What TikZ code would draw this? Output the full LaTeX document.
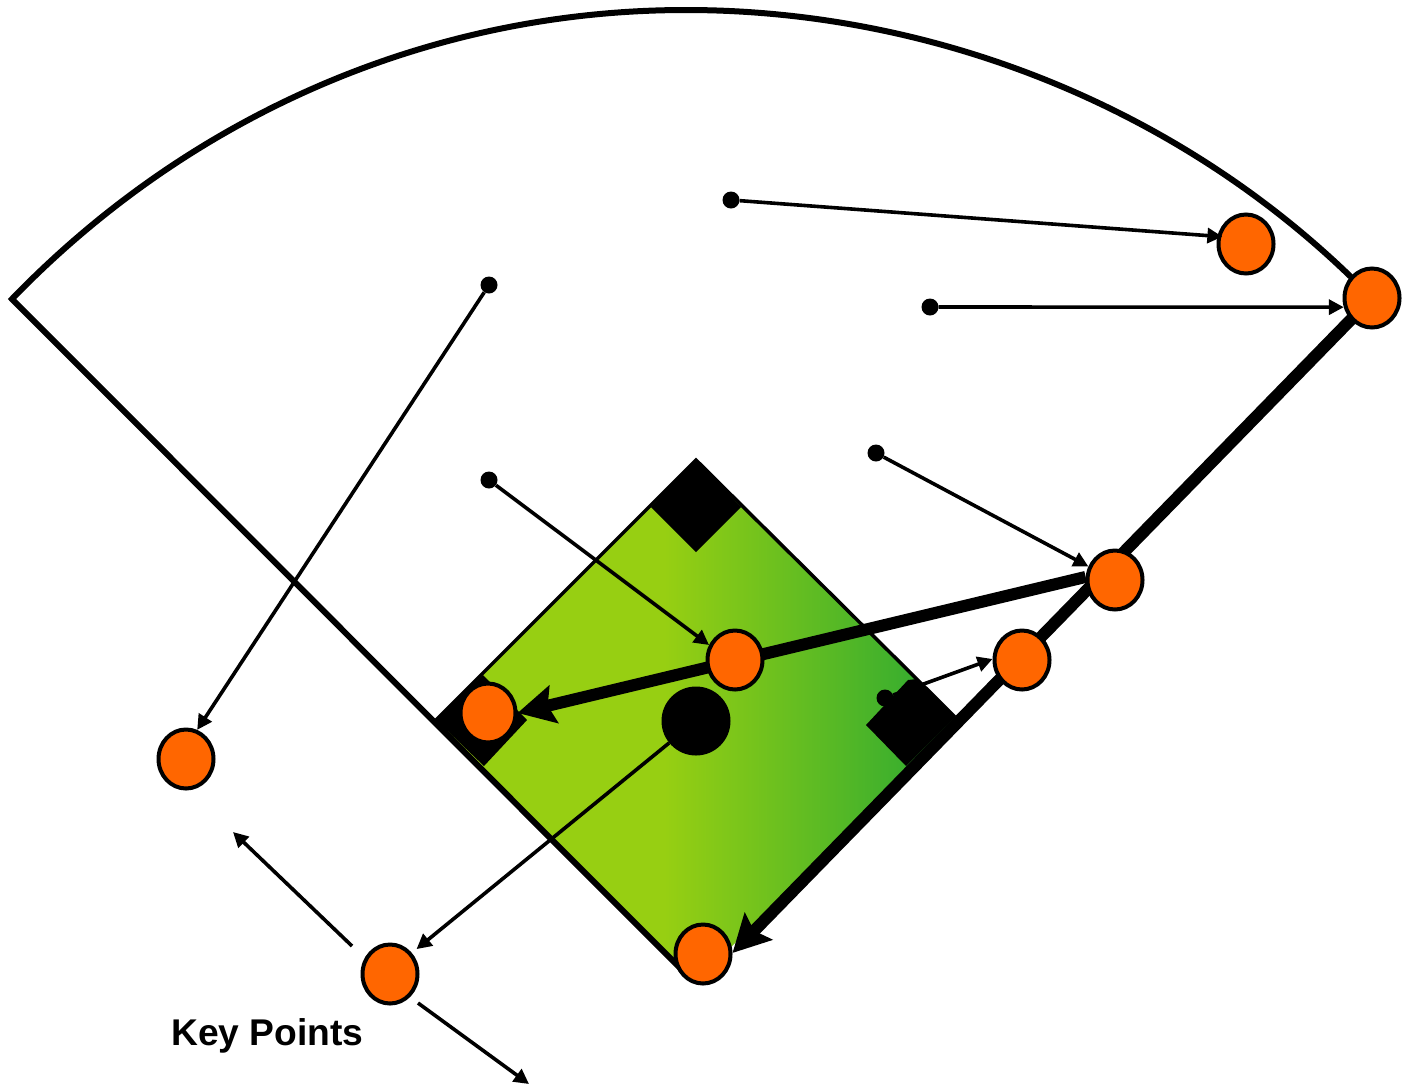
\documentclass[tikz,border=0pt]{standalone}
\usepackage{fontspec}
\setmainfont{Liberation Sans}
\usetikzlibrary{arrows.meta,shapes.geometric}
\definecolor{pointorange}{HTML}{FF6600}
\definecolor{fieldlight}{HTML}{97CF12}
\definecolor{fielddark}{HTML}{33AC30}
\pgfdeclarehorizontalshading{fieldgrad}{100bp}{color(0bp)=(fieldlight); color(47bp)=(fieldlight); color(72.5bp)=(fielddark); color(100bp)=(fielddark)}
\pgfdeclarelayer{field}
\pgfdeclarelayer{lines}
\pgfsetlayers{field,lines,main}
\tikzset{
  keypoint/.style={ellipse,draw=black,fill=pointorange,line width=4pt,minimum width=55pt,minimum height=59pt,inner sep=0pt},
  dotnode/.style={circle,fill=black,minimum size=17pt,inner sep=0pt},
  thinarrow/.style={line width=3.6pt,-{Triangle[length=15pt,width=15pt]}},
  thickarrow/.style={line width=12pt,-{Stealth[length=37pt,width=38pt,inset=6pt]}},
  outline/.style={line width=6pt,miter limit=10},
  edge/.style={line width=3.5pt}
}
\begin{document}
\begin{tikzpicture}[x=1pt,y=-1pt]
\useasboundingbox (0,0) rectangle (1407,1085);
% key points and dots
\node[keypoint] (c1) at (1246,244) {};
\node[keypoint] (c2) at (1372,298) {};
\node[keypoint] (c3) at (1115,580) {};
\node[keypoint] (c4) at (1022,660) {};
\node[keypoint] (c5) at (735,660) {};
\node[keypoint] (c6) at (488,713) {};
\node[keypoint] (c7) at (703,954) {};
\node[keypoint] (c8) at (186,759) {};
\node[keypoint] (c9) at (390,974) {};
\node[dotnode] (d1) at (731,200) {};
\node[dotnode] (d2) at (930,307) {};
\node[dotnode] (d3) at (876,453) {};
\node[dotnode] (d4) at (489,285) {};
\node[dotnode] (d5) at (489,480) {};
\node[dotnode] (d6) at (885,698) {};
\node[circle,fill=black,minimum size=69pt,inner sep=0pt] (mound) at (696,721) {};
\node[anchor=base west,font=\fontsize{37.2}{40}\selectfont\bfseries,inner sep=0pt] (label) at (171,1045) {Key Points};
\coordinate (f1a) at (352,946);
\coordinate (f1b) at (233,832);
\coordinate (f2a) at (418,1003);
\coordinate (f2b) at (529,1084);
\begin{pgfonlayer}{field}
  \path[shading=fieldgrad]
    (696,460) -- (955,717) -- (955,723) -- (697,981) -- (436,720) -- cycle;
  \draw[edge] (436,720) -- (696,460) -- (955,717);
  \fill[black] (696,460) -- (741,507) -- (696,552) -- (651,507) -- cycle;
  \fill[black] (436,720) -- (483,675) -- (527,720) -- (484,766) -- cycle;
  \fill[black] (908,680) -- (917,679) -- (955,717) -- (906,766) -- (866,725) -- cycle;
  \draw[outline] (c2.center) .. controls (1194,114) and (942,10) .. (686,10)
     .. controls (430,10) and (190,115) .. (12,299) -- (692,980);
\end{pgfonlayer}
\begin{pgfonlayer}{lines}
  \draw[thickarrow] (c2.center) -- (c7.2);
  \draw[thickarrow] (c3.174) -- (c6.east);
  \draw[thinarrow,shorten >=6pt] (mound) -- (c9.44);
  \draw[thinarrow] (d2) -- (c2.198);
  \draw[thinarrow] (d3) -- (c3.153);
  \draw[thinarrow] (d4) -- (c8.69);
  \draw[thinarrow] (d5) -- (c5.150);
  \draw[thinarrow] (d6) -- (c4.178);
\end{pgfonlayer}
\draw[thinarrow,shorten >=-5pt] (d1) -- (c1.165);
\draw[thinarrow] (f1a) -- (f1b);
\draw[thinarrow] (f2a) -- (f2b);
\end{tikzpicture}
\end{document}
